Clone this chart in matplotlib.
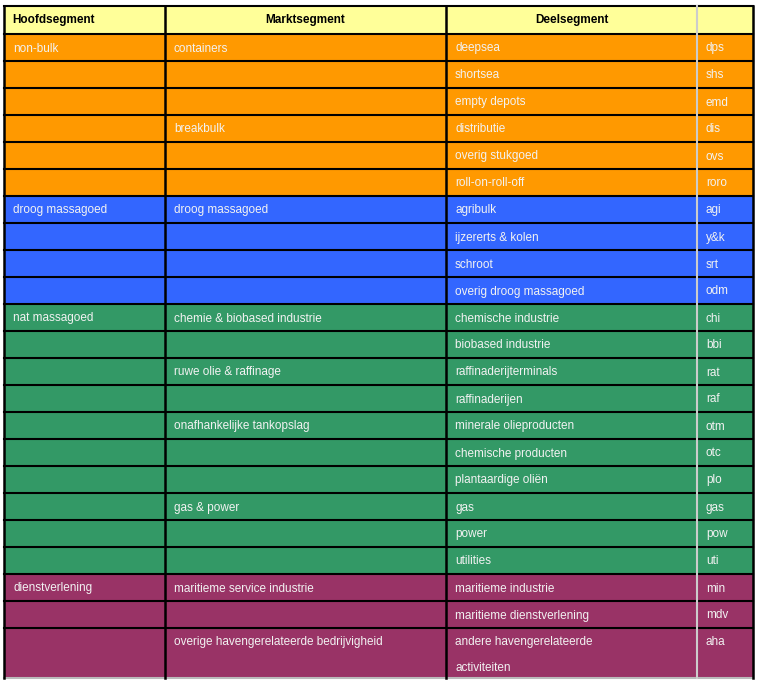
import matplotlib
matplotlib.use("Agg")
import matplotlib.pyplot as plt
from matplotlib.patches import Rectangle

headers = ["Hoofdsegment", "Marktsegment", "Deelsegment", ""]
hoofd = ["non-bulk", "", "", "", "", "", "droog massagoed", "", "", "", "nat massagoed", "", "", "", "", "", "", "", "", "", "dienstverlening", "", ""]
markt = ["containers", "", "", "breakbulk", "", "", "droog massagoed", "", "", "",
         "chemie & biobased industrie", "", "ruwe olie & raffinage", "", "onafhankelijke tankopslag", "", "", "gas & power", "", "",
         "maritieme service industrie", "", "overige havengerelateerde bedrijvigheid"]
deel = ["deepsea", "shortsea", "empty depots", "distributie", "overig stukgoed", "roll-on-roll-off",
        "agribulk", "ijzererts & kolen", "schroot", "overig droog massagoed",
        "chemische industrie", "biobased industrie", "raffinaderijterminals", "raffinaderijen",
        "minerale olieproducten", "chemische producten", "plantaardige oliën", "gas", "power", "utilities",
        "maritieme industrie", "maritieme dienstverlening", "andere havengerelateerde\nactiviteiten"]
codes = ["dps", "shs", "emd", "dis", "ovs", "roro", "agi", "y&k", "srt", "odm",
         "chi", "bbi", "rat", "raf", "otm", "otc", "plo", "gas", "pow", "uti", "min", "mdv", "aha"]
group = [0]*6 + [1]*4 + [2]*10 + [3]*3
row_units = [1]*22 + [1.85]
colors = ["#FF9900", "#3366FF", "#339966", "#993366"]

W, H = 758, 682
fig = plt.figure(figsize=(W/100, H/100), dpi=100)
ax = fig.add_axes([0, 0, 1, 1])
ax.set_xlim(0, W); ax.set_ylim(H, 0); ax.axis("off")

cols = [4, 165, 446, 697, 753]
top, hh, rh = 6, 28, 27
ax.add_patch(Rectangle((cols[0], top), cols[-1]-cols[0], hh, facecolor="#FFFF99", edgecolor="none"))
for i, h in enumerate(headers):
    if not h: continue
    x = cols[0]+8 if i == 0 else (cols[i]+cols[i+1])/2
    ax.text(x, top+hh/2, h, ha="left" if i == 0 else "center", va="center",
            fontsize=8.5, fontweight="bold", family="Liberation Sans")

y = top + hh
ys = [y]
for k in range(len(codes)):
    h = rh*row_units[k]
    ax.add_patch(Rectangle((cols[0], y), cols[-1]-cols[0], h, facecolor=colors[group[k]], edgecolor="none"))
    vals = [hoofd[k], markt[k], deel[k], codes[k]]
    for c, v in enumerate(vals):
        if v:
            if "\n" in v:
                for j, line in enumerate(v.split("\n")):
                    ax.text(cols[c]+9, y+14+j*26, line, ha="left", va="center", color="#F2F2F2", fontsize=8.5, family="Liberation Sans")
            else:
                ax.text(cols[c]+9, y+14 if row_units[k] > 1 else y+h/2+1, v, ha="left", va="center",
                        color="#F2F2F2", fontsize=8.5, family="Liberation Sans")
    y += h
    ys.append(y)

for yy in ys[:-1]:
    ax.plot([cols[0], cols[-1]], [yy, yy], color="black", lw=1.5)
ax.plot([cols[0], cols[-1]], [top, top], color="black", lw=1.5)
ax.plot([cols[0], cols[-1]], [ys[-1], ys[-1]], color="#BBBBBB", lw=1.5)
for i, cx in enumerate(cols):
    col = "#CCCCCC" if i == 3 else "black"
    ax.plot([cx, cx], [top, ys[-1]], color=col, lw=1.8 if i != 3 else 1.5)
fig.savefig("out.png", dpi=100)
